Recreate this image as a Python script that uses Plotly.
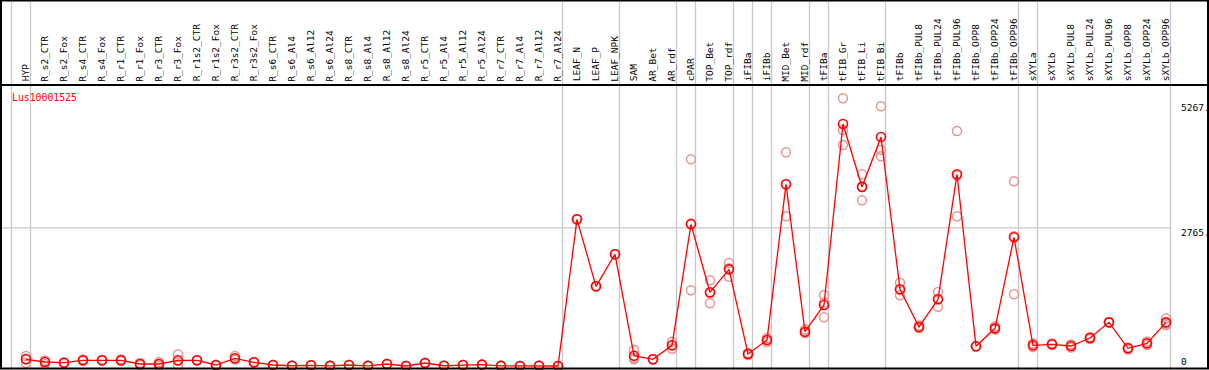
import plotly.graph_objects as go

W, H = 1209, 370

categories = ["HYP", "R_s2_CTR", "R_s2_Fox", "R_s4_CTR", "R_s4_Fox", "R_r1_CTR", "R_r1_Fox",
              "R_r3_CTR", "R_r3_Fox", "R_r1s2_CTR", "R_r1s2_Fox", "R_r3s2_CTR", "R_r3s2_Fox",
              "R_s6_CTR", "R_s6_Al4", "R_s6_Al12", "R_s6_Al24", "R_s8_CTR", "R_s8_Al4",
              "R_s8_Al12", "R_s8_Al24", "R_r5_CTR", "R_r5_Al4", "R_r5_Al12", "R_r5_Al24",
              "R_r7_CTR", "R_r7_Al4", "R_r7_Al12", "R_r7_Al24", "LEAF_N", "LEAF_P", "LEAF_NPK",
              "SAM", "AR_Bet", "AR_rdf", "cPAR", "TOP_Bet", "TOP_rdf", "iFIBa", "iFIBb",
              "MID_Bet", "MID_rdf", "tFIBa", "tFIB_Gr", "tFIB_Li", "tFIB_Bi", "tFIBb",
              "tFIBb_PUL8", "tFIBb_PUL24", "tFIBb_PUL96", "tFIBb_OPP8", "tFIBb_OPP24", "tFIBb_OPP96",
              "sXYLa", "sXYLb", "sXYLb_PUL8", "sXYLb_PUL24", "sXYLb_PUL96", "sXYLb_OPP8",
              "sXYLb_OPP24", "sXYLb_OPP96"]

mean_values = [134, 80, 66, 114, 114, 114, 40, 40, 114, 114, 20, 154, 74, 20, 5,
               14, 3, 20, 3, 40, 0, 60, 5, 20, 27, 3, 0, 5, 0,
               2936, 1595, 2236, 206, 134, 414, 2836, 1475, 1935, 240, 520, 3637, 687, 1221,
               4844, 3583, 4584, 1535, 781, 1335, 3837, 394, 754, 2576, 414, 434, 400, 560,
               874, 354, 454, 874]

rep_a = [200, 110, 66, 130, 114, 130, 60, 80, 234, 120, 20, 200, 80, 20, 5,
         14, 3, 20, 3, 40, 0, 60, 5, 20, 27, 3, 0, 5, 0,
         2936, 1595, 2236, 320, 134, 486, 4137, 1715, 2062, 260, 560, 4277, 730, 1421,
         5358, 3837, 5198, 1667, 810, 1481, 4704, 394, 790, 3697, 450, 434, 430, 540,
         874, 330, 490, 954]
rep_b = [140, 40, 60, 100, 110, 100, 20, 0, 6, 108, 15, 130, 70, 20, 5,
         14, 3, 20, 3, 40, 0, 60, 5, 20, 27, 3, 0, 5, 0,
         2936, 1595, 2236, 134, 134, 346, 1515, 1255, 1788, 220, 480, 2996, 660, 974,
         4724, 3316, 4324, 1415, 760, 1187, 2996, 394, 730, 1435, 380, 420, 370, 580,
         874, 370, 420, 820]
rep_c = [60, 90, 72, 112, 118, 112, 40, 40, 102, 114, 25, 132, 72, 20, 5,
         14, 3, 20, 3, 40, 0, 60, 5, 20, 27, 3, 0, 5, 0,
         2936, 1595, 2236, 164, 134, 410, 2856, 1455, 1955, 240, 520, 3638, 671, 1268,
         4424, 3597, 4197, 1523, 773, 1337, 3811, 394, 742, 2596, 412, 448, 400, 560,
         874, 362, 452, 848]

separator_after = [-1, 0, 28, 31, 34, 35, 37, 38, 39, 41, 42, 45, 52, 53, 60]
tick_values = [0, 2765, 5267]
tick_labels = ["0", "2765.", "5267."]
gene_name = "Lus10001525"

x_idx = list(range(len(categories)))

# pixel <-> data helpers for layout
x0_px, dx_px = 26.0, 19.0
xr = [(0 - x0_px) / dx_px, (W - x0_px) / dx_px]
zero_px, per_unit = 366.0, 0.04996
yr = [(zero_px - H) / per_unit, zero_px / per_unit]


def px_x(p):
    return p / W


def px_y(p):
    return 1 - p / H


MONO = "DejaVu Sans Mono"
fig = go.Figure()

rep_x, rep_y = [], []
for reps in (rep_a, rep_b, rep_c):
    rep_x += x_idx
    rep_y += reps
fig.add_trace(go.Scatter(x=rep_x, y=rep_y, mode="markers",
                         marker=dict(symbol="circle-open", size=9, color="#e89494",
                                     line=dict(width=1.5, color="#e89494")),
                         hoverinfo="skip", showlegend=False))
fig.add_trace(go.Scatter(x=x_idx, y=mean_values, mode="lines+markers",
                         line=dict(color="#ff0000", width=1.3),
                         marker=dict(symbol="circle-open", size=9, color="#ff0000",
                                     line=dict(width=1.6, color="#ff0000")),
                         showlegend=False))

shapes = []
for s in separator_after:
    xs = s + 4.5 / dx_px
    shapes.append(dict(type="line", xref="x", yref="paper", x0=xs, x1=xs, y0=0, y1=1,
                       line=dict(color="#c8c8c8", width=1.3), layer="below"))
shapes.append(dict(type="line", xref="paper", yref="y", x0=0, x1=px_x(1170),
                   y0=tick_values[1], y1=tick_values[1],
                   line=dict(color="#c8c8c8", width=1.3), layer="below"))
shapes.append(dict(type="line", xref="paper", yref="paper", x0=0, x1=1,
                   y0=px_y(85), y1=px_y(85), line=dict(color="black", width=2)))
shapes.append(dict(type="rect", xref="paper", yref="paper", x0=px_x(1), x1=px_x(1208),
                   y0=px_y(368.5), y1=px_y(0.5), line=dict(color="black", width=2)))

annotations = []
for i, c in enumerate(categories):
    annotations.append(dict(x=i - 0.04, y=px_y(83.5), xref="x", yref="paper", text=c,
                            textangle=-90, showarrow=False, xanchor="center", yanchor="bottom",
                            font=dict(family=MONO, size=9.5, color="black")))
for v, t in zip(tick_values, tick_labels):
    annotations.append(dict(x=px_x(1179), y=v, xref="paper", yref="y", text=t,
                            showarrow=False, xanchor="left", yanchor="middle",
                            yshift=(4.3 if v == 0 else -4.3),
                            font=dict(family=MONO, size=9.5, color="black")))
annotations.append(dict(x=px_x(9.5), y=px_y(97.3), xref="paper", yref="paper", text=gene_name,
                        showarrow=False, xanchor="left", yanchor="middle",
                        font=dict(family=MONO, size=9.8, color="#ff0000")))

fig.update_layout(
    width=W, height=H, margin=dict(l=0, r=0, t=0, b=0),
    paper_bgcolor="white", plot_bgcolor="white",
    xaxis=dict(range=xr, visible=False, showgrid=False, zeroline=False),
    yaxis=dict(range=yr, visible=False, showgrid=False, zeroline=False),
    shapes=shapes, annotations=annotations, showlegend=False,
)

fig.write_html("out.html", config={"displayModeBar": False},
               post_script="document.body.style.margin='0';document.body.style.overflow='hidden';")
